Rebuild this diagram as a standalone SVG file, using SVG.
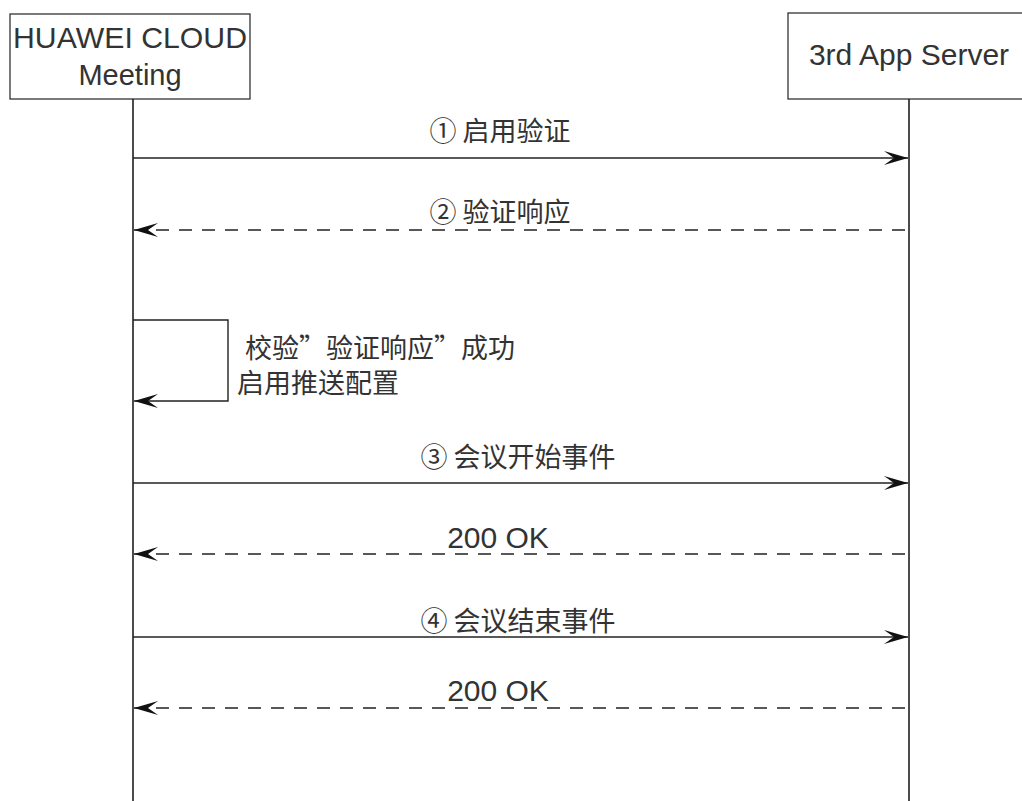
<svg xmlns="http://www.w3.org/2000/svg" width="1022" height="801" viewBox="0 0 1022 801">
<style>
.box{fill:#fff;stroke:#333;stroke-width:1.3}
.life{stroke:#111;stroke-width:1.5;fill:none}
.msg{stroke:#222;stroke-width:1.4;fill:none}
.dash{stroke-dasharray:13 10}
.lat{font-family:"Liberation Sans","Noto Sans CJK SC",sans-serif;fill:#333}
.cjk{font-family:"Noto Sans CJK SC","Liberation Sans",sans-serif;fill:#333;font-size:27px}
</style>
<defs>
<marker id="ah" viewBox="0 0 24 14" refX="24" refY="7" markerWidth="24" markerHeight="14" markerUnits="userSpaceOnUse" orient="auto">
<path d="M0,0 L24,7 L0,14 L10,7 Z" fill="#111"/>
</marker>
</defs>
<rect width="1022" height="801" fill="#fff"/>
<g id="node-huawei">
<rect class="box" x="10" y="14" width="240" height="85"/>
<text class="lat" x="130" y="48" font-size="29" text-anchor="middle" textLength="234" lengthAdjust="spacingAndGlyphs">HUAWEI CLOUD</text>
<text class="lat" x="130" y="85" font-size="29" text-anchor="middle">Meeting</text>
</g>
<g id="node-app">
<rect class="box" x="788" y="13" width="245" height="86"/>
<text class="lat" x="909" y="65" font-size="30" text-anchor="middle">3rd App Server</text>
</g>
<g id="connectors">
<line class="life" x1="133" y1="99" x2="133" y2="801"/>
<line class="life" x1="909" y1="99" x2="909" y2="801"/>
<line class="msg" x1="133" y1="158" x2="908" y2="158" marker-end="url(#ah)"/>
<line class="msg dash" x1="905" y1="230" x2="134" y2="230" marker-end="url(#ah)"/>
<path class="msg" d="M133,320 H228 V401 H134" marker-end="url(#ah)"/>
<line class="msg" x1="133" y1="483" x2="908" y2="483" marker-end="url(#ah)"/>
<line class="msg dash" x1="905" y1="554" x2="134" y2="554" marker-end="url(#ah)"/>
<line class="msg" x1="133" y1="637" x2="908" y2="637" marker-end="url(#ah)"/>
<line class="msg dash" x1="905" y1="708" x2="134" y2="708" marker-end="url(#ah)"/>
</g>
<g id="labels">
<text class="cjk" x="500" y="141" text-anchor="middle">① 启用验证</text>
<text class="cjk" x="500" y="222" text-anchor="middle">② 验证响应</text>
<text class="cjk" x="245" y="358">校验”验证响应”成功</text>
<text class="cjk" x="237" y="393">启用推送配置</text>
<text class="cjk" x="518" y="467" text-anchor="middle">③ 会议开始事件</text>
<text class="lat" x="498" y="548" font-size="30" text-anchor="middle">200 OK</text>
<text class="cjk" x="518" y="631" text-anchor="middle">④ 会议结束事件</text>
<text class="lat" x="498" y="701" font-size="30" text-anchor="middle">200 OK</text>
</g>
</svg>
